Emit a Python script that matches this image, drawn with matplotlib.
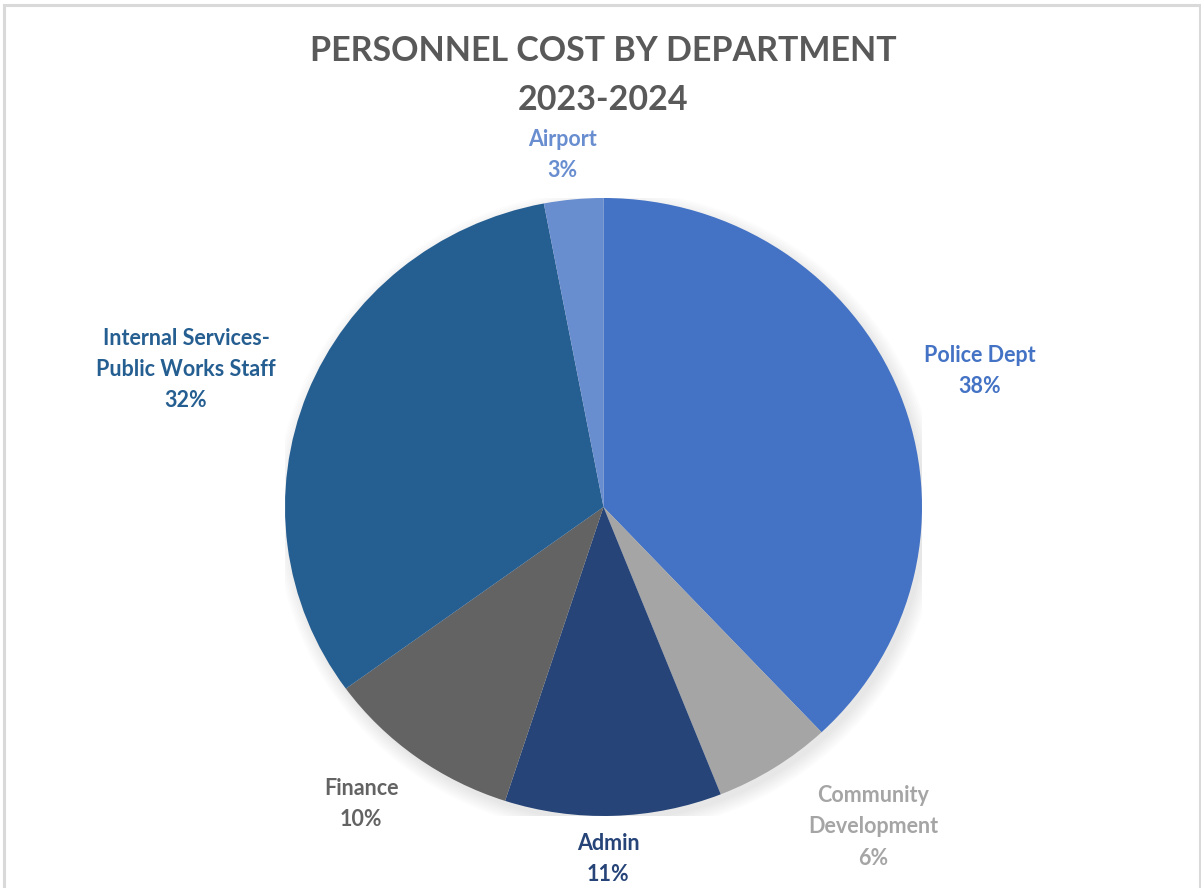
import numpy as np
import matplotlib.pyplot as plt
from matplotlib.patches import Rectangle, Ellipse

# personnel cost share per department, clockwise from 12 o'clock
departments = ["Police Dept", "Community\nDevelopment", "Admin", "Finance",
               "Internal Services-\nPublic Works Staff", "Airport"]
shares = [38, 6, 11, 10, 32, 3]
colors = ["#4472C4", "#A5A5A5", "#264478", "#636363", "#255E91", "#698ED0"]

# label centres in pie units (pie radius = 1)
label_xy = [(1.18, 0.44), (0.846, -1.035), (0.014, -1.14), (-0.761, -0.96),
            (-1.311, 0.445), (-0.13, 1.14)]

plt.rcParams['font.family'] = ['Lato', 'DejaVu Sans']

W, H = 1201, 888
fig = plt.figure(figsize=(W / 100, H / 100), dpi=100)

# light chart-area frame
fig.patches.append(Rectangle((4 / W, -0.01), (W - 5) / W, (H - 5) / H + 0.01,
                             transform=fig.transFigure, fill=False,
                             edgecolor="#D9D9D9", linewidth=2.2))

fig.text(603 / W, 1 - 51 / H, "PERSONNEL COST BY DEPARTMENT",
         ha="center", va="center", fontsize=24.5, fontweight="bold", color="#595959")
fig.text(603 / W, 1 - 100 / H, "2023-2024",
         ha="center", va="center", fontsize=24.5, fontweight="bold", color="#595959")

cx, cy, rx, ry = 603.5, 507, 318.5, 309
ax = fig.add_axes([(cx - rx) / W, 1 - (cy + ry) / H, 2 * rx / W, 2 * ry / H])

# soft shadow under the pie
for k in range(8):
    ax.add_patch(Ellipse((0.012, -0.018), 2 + 0.012 * k, 2 + 0.012 * k,
                         color="black", alpha=0.012, lw=0, zorder=0))

wedges, _ = ax.pie(shares, colors=colors, startangle=90, counterclock=False,
                   radius=1, wedgeprops=dict(linewidth=0))
for w in wedges:
    w.set_zorder(2)
ax.set_aspect("auto")
ax.set_xlim(-1, 1)
ax.set_ylim(-1, 1)
ax.axis("off")

for name, val, col, (x, y) in zip(departments, shares, colors, label_xy):
    ax.text(x, y, f"{name}\n{val}%", ha="center", va="center", fontsize=15.5,
            fontweight="bold", color=col, linespacing=1.6, clip_on=False)

fig.savefig("out.png", dpi=100)
